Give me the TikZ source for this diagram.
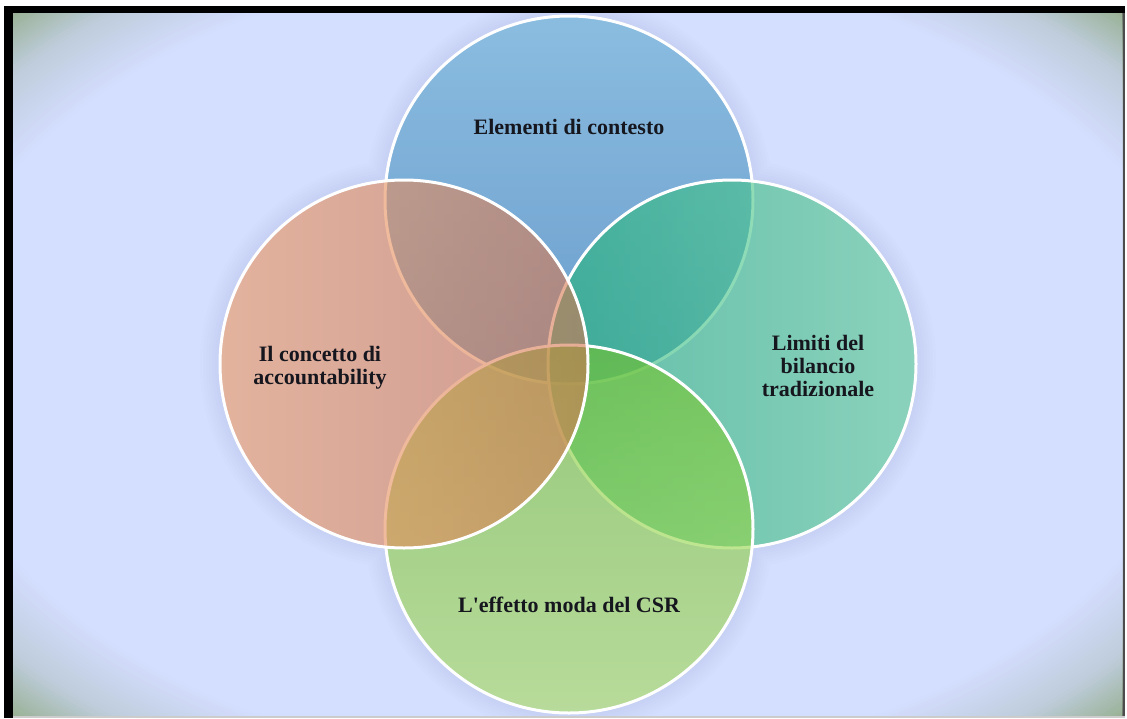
\documentclass[tikz,border=0pt]{standalone}
\usepackage{fontspec}
\setmainfont{Liberation Serif}
\definecolor{bgc}{RGB}{212,222,255}
\definecolor{bgmid}{RGB}{190,204,218}
\definecolor{bgcorner}{RGB}{146,172,136}
\definecolor{halo}{RGB}{140,150,205}
\definecolor{topA}{RGB}{100,177,212}
\definecolor{topB}{RGB}{45,122,178}
\definecolor{leftA}{RGB}{246,160,100}
\definecolor{leftB}{RGB}{212,118,80}
\definecolor{rightA}{RGB}{30,178,118}
\definecolor{rightB}{RGB}{100,212,150}
\definecolor{botA}{RGB}{115,195,40}
\definecolor{botB}{RGB}{175,227,95}
\definecolor{txt}{RGB}{22,22,30}
\begin{document}
\begin{tikzpicture}[x=1pt,y=-1pt,
  venn/.style={circle, minimum size=368pt, inner sep=0pt, draw=white, line width=3pt, fill opacity=0.6},
  lbl/.style={text=txt, font=\bfseries\fontsize{22}{23}\selectfont, align=center, inner sep=0pt}]
\useasboundingbox (0,0) rectangle (1127,718);
\fill[white] (0,0) rectangle (1127,718);
\fill[black] (4,6) rectangle (1125,718);
\fill[black!70] (1122,13) rectangle (1125,716);
\begin{scope}
  \clip (13,13) rectangle (1122,716);
  \fill[bgcorner] (13,13) rectangle (1122,716);
  \foreach \i in {0,...,20}{
    \pgfmathsetmacro\rr{72-7*\i/20}
    \pgfmathsetmacro\p{100*\i/20}
    \fill[bgmid!\p!bgcorner] (567.5,364.5) ellipse [x radius=\rr*11.09pt, y radius=\rr*7.03pt];
  }
  \foreach \i in {1,...,20}{
    \pgfmathsetmacro\rr{65-8*\i/20}
    \pgfmathsetmacro\p{100*\i/20}
    \fill[bgc!\p!bgmid] (567.5,364.5) ellipse [x radius=\rr*11.09pt, y radius=\rr*7.03pt];
  }
  \foreach \r in {186,189,...,204}{
    \fill[halo, opacity=0.025] (569,200) circle (\r pt) (732,364) circle (\r pt)
      (569,529) circle (\r pt) (404,364) circle (\r pt);
  }
\end{scope}
\fill[black!20] (13,716) rectangle (1125,718);
\node[venn, top color=topA, bottom color=topB] (ctop) at (569,200) {};
\node[venn, left color=rightA, right color=rightB] (cright) at (732,364) {};
\node[venn, top color=botA, bottom color=botB] (cbot) at (569,529) {};
\node[venn, left color=leftA, right color=leftB] (cleft) at (404,364) {};
\node[lbl] (ttop) at (569,127) {Elementi di contesto};
\node[lbl] (tleft) at (320,368) {Il concetto di\\accountability};
\node[lbl] (tright) at (818,366) {Limiti del\\bilancio\\tradizionale};
\node[lbl] (tbot) at (569,605) {L\textquotesingle effetto moda del CSR};
\end{tikzpicture}
\end{document}
